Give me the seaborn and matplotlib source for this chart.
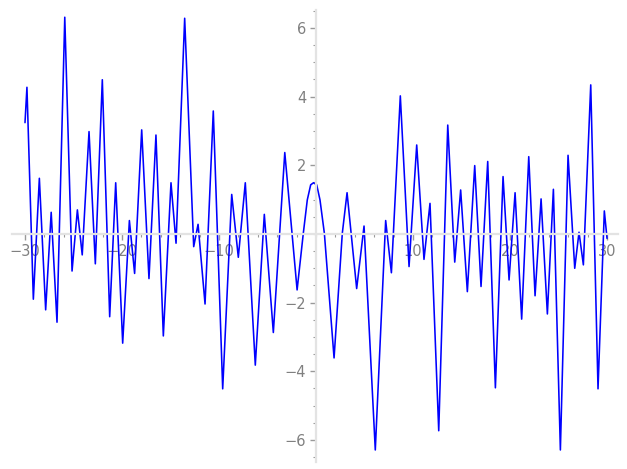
import matplotlib
matplotlib.use("Agg")
import matplotlib.pyplot as plt
from matplotlib.ticker import MultipleLocator, FixedLocator
import seaborn as sns
import pandas as pd

# Points (extrema and a few shoulder points)
x_vals = [-30.00, -29.80, -29.14, -28.52, -27.87, -27.30, -26.70, -25.90, -25.15, -24.60,
          -24.10, -23.40, -22.75, -22.03, -21.27, -20.65, -19.93, -19.24, -18.70, -17.97,
          -17.22, -16.50, -15.74, -14.95, -14.43, -13.54, -12.61, -12.16, -11.44, -10.59,
          -9.62, -8.69, -8.01, -7.29, -6.26, -5.33, -4.40, -3.22, -1.95, -1.31,
          -0.90, -0.55, -0.26, 0.07, 0.41, 0.86, 1.86, 2.71, 3.20, 4.19,
          4.95, 6.11, 7.18, 7.77, 8.69, 9.59, 10.38, 11.13, 11.75, 12.65,
          13.58, 14.30, 14.91, 15.60, 16.36, 17.01, 17.70, 18.49, 19.28, 19.90,
          20.52, 21.20, 21.93, 22.58, 23.20, 23.85, 24.47, 25.19, 25.98, 26.67,
          27.11, 27.56, 28.32, 29.07, 29.72, 30.00]
y_vals = [3.24, 4.27, -1.90, 1.62, -2.21, 0.63, -2.57, 6.31, -1.08, 0.70,
          -0.61, 2.98, -0.87, 4.49, -2.41, 1.49, -3.18, 0.39, -1.15, 3.03,
          -1.30, 2.88, -2.97, 1.49, -0.27, 6.28, -0.37, 0.28, -2.04, 3.58,
          -4.51, 1.15, -0.68, 1.49, -3.82, 0.57, -2.87, 2.37, -1.63, 0.02,
          0.99, 1.43, 1.49, 1.43, 0.99, 0.02, -3.61, 0.02, 1.20, -1.59,
          0.23, -6.29, 0.39, -1.13, 4.02, -0.95, 2.59, -0.74, 0.89, -5.73,
          3.17, -0.82, 1.28, -1.68, 1.99, -1.53, 2.11, -4.48, 1.67, -1.34,
          1.20, -2.48, 2.25, -1.80, 1.02, -2.33, 1.30, -6.29, 2.29, -1.00,
          0.05, -0.90, 4.34, -4.51, 0.67, -0.13]

x_major = [-30, -20, -10, 10, 20, 30]
y_major = [-6, -4, -2, 2, 4, 6]

df = pd.DataFrame({"x": x_vals, "y": y_vals})

sns.set_style("white")
fig = plt.figure(figsize=(6.27, 4.69), dpi=100)
W, H = 627, 469
ax = fig.add_axes([12 / W, (H - 462) / H, 606 / W, 452 / H])

sns.lineplot(data=df, x="x", y="y", sort=False, estimator=None,
             color="#0000ff", linewidth=1.15, ax=ax)
for ln in ax.get_lines():
    ln.set_solid_joinstyle("round")

ax.set_xlim(-31.34, 31.13)
ax.set_ylim(-6.64, 6.52)

for s in ["top", "right"]:
    ax.spines[s].set_visible(False)
ax.spines["left"].set_position(("data", 0))
ax.spines["bottom"].set_position(("data", 0))
for s in ["left", "bottom"]:
    ax.spines[s].set_color("#e3e3e3")
    ax.spines[s].set_linewidth(1.6)

ax.xaxis.set_major_locator(FixedLocator(x_major))
ax.yaxis.set_major_locator(FixedLocator(y_major))
ax.xaxis.set_minor_locator(MultipleLocator(2))
ax.yaxis.set_minor_locator(MultipleLocator(0.5))
ax.set_xticklabels(["\u2212" + str(-v) if v < 0 else str(v) for v in x_major])
ax.set_yticklabels(["\u2212" + str(-v) if v < 0 else str(v) for v in y_major])

ax.tick_params(which="major", direction="out", length=4, width=1, color="#999999",
               labelcolor="#808080", labelsize=10.5, pad=3,
               bottom=True, left=True)
ax.tick_params(which="minor", direction="out", length=2.2, width=0.8, color="#999999",
               bottom=True, left=True)
ax.set_xlabel("")
ax.set_ylabel("")
ax.grid(False)

fig.savefig("out.png", dpi=100)
